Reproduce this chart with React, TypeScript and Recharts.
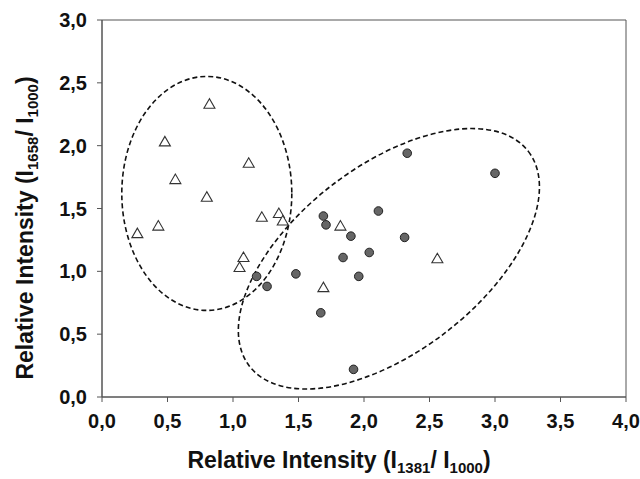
import { ScatterChart, Scatter, XAxis, YAxis, ReferenceArea, ReferenceDot } from "recharts";

// open triangles
const triangleX = [0.82, 0.48, 1.12, 0.56, 0.8, 1.22, 1.35, 1.38, 0.43, 0.27, 1.08, 1.05, 1.82, 2.56, 1.69];
const triangleY = [2.33, 2.03, 1.86, 1.73, 1.59, 1.43, 1.46, 1.4, 1.36, 1.3, 1.11, 1.03, 1.36, 1.1, 0.87];

// filled circles
const circleX = [1.18, 1.26, 1.48, 2.33, 3.0, 2.11, 1.69, 1.71, 1.9, 2.31, 2.04, 1.84, 1.96, 1.67, 1.92];
const circleY = [0.96, 0.88, 0.98, 1.94, 1.78, 1.48, 1.44, 1.37, 1.28, 1.27, 1.15, 1.11, 0.96, 0.67, 0.22];

// cluster ellipse centres
const ellipseX = [0.8, 2.19];
const ellipseY = [1.62, 1.1];

const xTicks = [0, 0.5, 1, 1.5, 2, 2.5, 3, 3.5, 4];
const yTicks = [0, 0.5, 1, 1.5, 2, 2.5, 3];

const triangles = triangleX.map((x, i) => ({ x, y: triangleY[i] }));
const circles = circleX.map((x, i) => ({ x, y: circleY[i] }));

// ellipse shapes in pixels (rx, ry, rotation)
const ellipseShape = [
  { rx: 85, ry: 117, rot: 0 },
  { rx: 176, ry: 93, rot: -37.6 },
];

const font = "'Liberation Sans', Arial, sans-serif";
const axisColor = "#555";
const fmt = (v: number) => v.toFixed(1).replace(".", ",");

const Triangle = (props: any) => {
  const { cx, cy } = props;
  if (cx == null || cy == null) return null;
  const pts = `${cx},${cy - 5.5} ${cx - 5.5},${cy + 4} ${cx + 5.5},${cy + 4}`;
  return <polygon points={pts} fill="#fff" stroke="#333" strokeWidth={1.1} />;
};

const Circle = (props: any) => {
  const { cx, cy } = props;
  if (cx == null || cy == null) return null;
  return <circle cx={cx} cy={cy} r={4.3} fill="#666" stroke="#222" strokeWidth={1} />;
};

const makeEllipse = (i: number) => (props: any) => {
  const { cx, cy } = props;
  const e = ellipseShape[i];
  return (
    <ellipse
      cx={cx}
      cy={cy}
      rx={e.rx}
      ry={e.ry}
      transform={`rotate(${e.rot} ${cx} ${cy})`}
      fill="none"
      stroke="#111"
      strokeWidth={1.6}
      strokeDasharray="5 3"
    />
  );
};

const XTitle = () => (
  <text x={339} y={468} textAnchor="middle" fontFamily={font} fontWeight="bold" fontSize={23} fill="#111">
    Relative Intensity (I
    <tspan fontSize={15} dy={5}>1381</tspan>
    <tspan dy={-5}>/ I</tspan>
    <tspan fontSize={15} dy={5}>1000</tspan>
    <tspan dy={-5}>)</tspan>
  </text>
);

const YTitle = () => (
  <text
    x={33}
    y={228}
    transform="rotate(-90 33 228)"
    textAnchor="middle"
    fontFamily={font}
    fontWeight="bold"
    fontSize={23}
    fill="#111"
  >
    Relative Intensity (I
    <tspan fontSize={15} dy={5}>1658</tspan>
    <tspan dy={-5}>/ I</tspan>
    <tspan fontSize={15} dy={5}>1000</tspan>
    <tspan dy={-5}>)</tspan>
  </text>
);

const tickStyle = { fontFamily: font, fontWeight: "bold", fontSize: 20, fill: "#111" };

export default function App() {
  return (
    <div style={{ position: "absolute", left: 0, top: 0, background: "#fff" }}>
      <ScatterChart width={640} height={479} margin={{ top: 20, right: 14, bottom: 0, left: 0 }}>
        <XAxis
          type="number"
          dataKey="x"
          domain={[0, 4]}
          ticks={xTicks}
          tickFormatter={fmt}
          height={82}
          tickSize={5}
          tickMargin={12}
          stroke={axisColor}
          tick={tickStyle}
          label={{ content: XTitle }}
          allowDataOverflow
        />
        <YAxis
          type="number"
          dataKey="y"
          domain={[0, 3]}
          ticks={yTicks}
          tickFormatter={fmt}
          width={102}
          tickSize={5}
          tickMargin={10}
          stroke={axisColor}
          tick={tickStyle}
          label={{ content: YTitle }}
          allowDataOverflow
        />
        <ReferenceArea x1={0} x2={4} y1={0} y2={3} fill="none" stroke={axisColor} strokeWidth={1} />
        {ellipseX.map((x, i) => (
          <ReferenceDot key={i} x={x} y={ellipseY[i]} r={1} shape={makeEllipse(i)} />
        ))}
        <Scatter data={triangles} shape={Triangle} isAnimationActive={false} />
        <Scatter data={circles} shape={Circle} isAnimationActive={false} />
      </ScatterChart>
    </div>
  );
}
